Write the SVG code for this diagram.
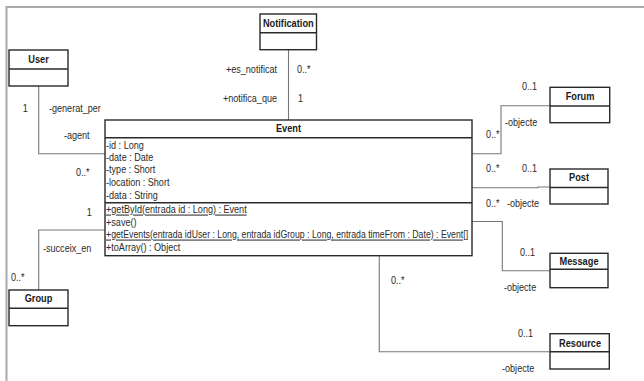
<svg xmlns="http://www.w3.org/2000/svg" width="644" height="381" viewBox="0 0 644 381">
<style>
.box{fill:#fff;stroke:#2a2a2a;stroke-width:1.4}
.sep{stroke:#2a2a2a;stroke-width:1.4}
.con{fill:none;stroke:#777;stroke-width:1.1}
.s{transform:scale(0.88,1)}
text{font-family:"Liberation Sans",Arial,sans-serif;font-size:10.3px;fill:#2a2a2a}
.t{font-weight:bold;font-size:10.5px;text-anchor:middle;fill:#1a1a1a}
.u{text-decoration:underline}
.r{text-anchor:end}
</style>
<rect width="644" height="381" fill="#fff"/>
<path d="M6.5,381 V7 H644" fill="none" stroke="#aaa" stroke-width="2"/>
<g id="connectors">
<path class="con" d="M288.5,50 V120"/>
<path class="con" d="M38.7,86 V153.7 H105"/>
<path class="con" d="M38.7,290 V230 H105"/>
<path class="con" d="M472,153.7 H501 V105.7 H550"/>
<path class="con" d="M472,187.7 H538 V187 H550"/>
<path class="con" d="M472,221.5 H502.3 V270.7 H550"/>
<path class="con" d="M379.3,256 V351.7 H550"/>
</g>
<g id="labels">
<g class="s">
<text class="r" x="314.8" y="73.5">+es_notificat</text>
<text x="337.5" y="73.5">0..*</text>
<text class="r" x="314.8" y="102.5">+notifica_que</text>
<text x="338.6" y="102.5">1</text>
<text x="26" y="112">1</text>
<text x="55.7" y="112">-generat_per</text>
<text x="72.7" y="139.5">-agent</text>
<text x="86.4" y="176.5">0..*</text>
<text x="98.5" y="216">1</text>
<text x="48.9" y="252">-succeix_en</text>
<text x="12.5" y="281.5">0..*</text>
<text x="593.2" y="90">0..1</text>
<text x="573.9" y="126.5">-objecte</text>
<text x="552.3" y="138.5">0..*</text>
<text x="552.3" y="172">0..*</text>
<text x="593.2" y="172">0..1</text>
<text x="552.3" y="207">0..*</text>
<text x="576.1" y="207">-objecte</text>
<text x="590.9" y="256">0..1</text>
<text x="572.7" y="291.5">-objecte</text>
<text x="444.3" y="284.5">0..*</text>
<text x="588.6" y="337">0..1</text>
<text x="570.5" y="372.5">-objecte</text>
</g>
</g>
<g id="Notification">
<rect class="box" x="260" y="14" width="56.5" height="35.7"/>
<line class="sep" x1="260" y1="32.7" x2="316.5" y2="32.7"/>
<g class="s"><text class="t" x="327.6" y="27.5">Notification</text></g>
</g>
<g id="User">
<rect class="box" x="9" y="50" width="59" height="36"/>
<line class="sep" x1="9" y1="69" x2="68" y2="69"/>
<g class="s"><text class="t" x="43.75" y="63.5">User</text></g>
</g>
<g id="Group">
<rect class="box" x="9" y="290" width="59" height="35.7"/>
<line class="sep" x1="9" y1="308.3" x2="68" y2="308.3"/>
<g class="s"><text class="t" x="43.75" y="302.5">Group</text></g>
</g>
<g id="Forum">
<rect class="box" x="550" y="87.3" width="59.7" height="35.4"/>
<line class="sep" x1="550" y1="106" x2="609.7" y2="106"/>
<g class="s"><text class="t" x="659.1" y="100.5">Forum</text></g>
</g>
<g id="Post">
<rect class="box" x="550" y="169" width="58" height="35"/>
<line class="sep" x1="550" y1="187.5" x2="608" y2="187.5"/>
<g class="s"><text class="t" x="658" y="181.5">Post</text></g>
</g>
<g id="Message">
<rect class="box" x="550" y="253.3" width="58" height="34.4"/>
<line class="sep" x1="550" y1="269.3" x2="608" y2="269.3"/>
<g class="s"><text class="t" x="658" y="265.2">Message</text></g>
</g>
<g id="Resource">
<rect class="box" x="550" y="333.7" width="59.3" height="35.3"/>
<line class="sep" x1="550" y1="351.7" x2="609.3" y2="351.7"/>
<g class="s"><text class="t" x="659.1" y="347">Resource</text></g>
</g>
<g id="Event">
<rect class="box" x="105" y="120" width="367" height="135.7"/>
<line class="sep" x1="105" y1="137.7" x2="472" y2="137.7"/>
<line class="sep" x1="105" y1="202.7" x2="472" y2="202.7"/>
<g class="s">
<text class="t" x="327.8" y="131.8">Event</text>
<text x="120.5" y="149.2">-id : Long</text>
<text x="120.5" y="160.7">-date : Date</text>
<text x="120.5" y="173.3">-type : Short</text>
<text x="120.5" y="186">-location : Short</text>
<text x="120.5" y="198.7">-data : String</text>
<text class="u" x="120.5" y="213.5">+getById(entrada id : Long) : Event</text>
<text x="120.5" y="226">+save()</text>
<text class="u" x="120.5" y="238.5" textLength="411.4" lengthAdjust="spacingAndGlyphs">+getEvents(entrada idUser : Long, entrada idGroup : Long, entrada timeFrom : Date) : Event[]</text>
<text x="120.5" y="251.2">+toArray() : Object</text>
</g>
</g>
</svg>
